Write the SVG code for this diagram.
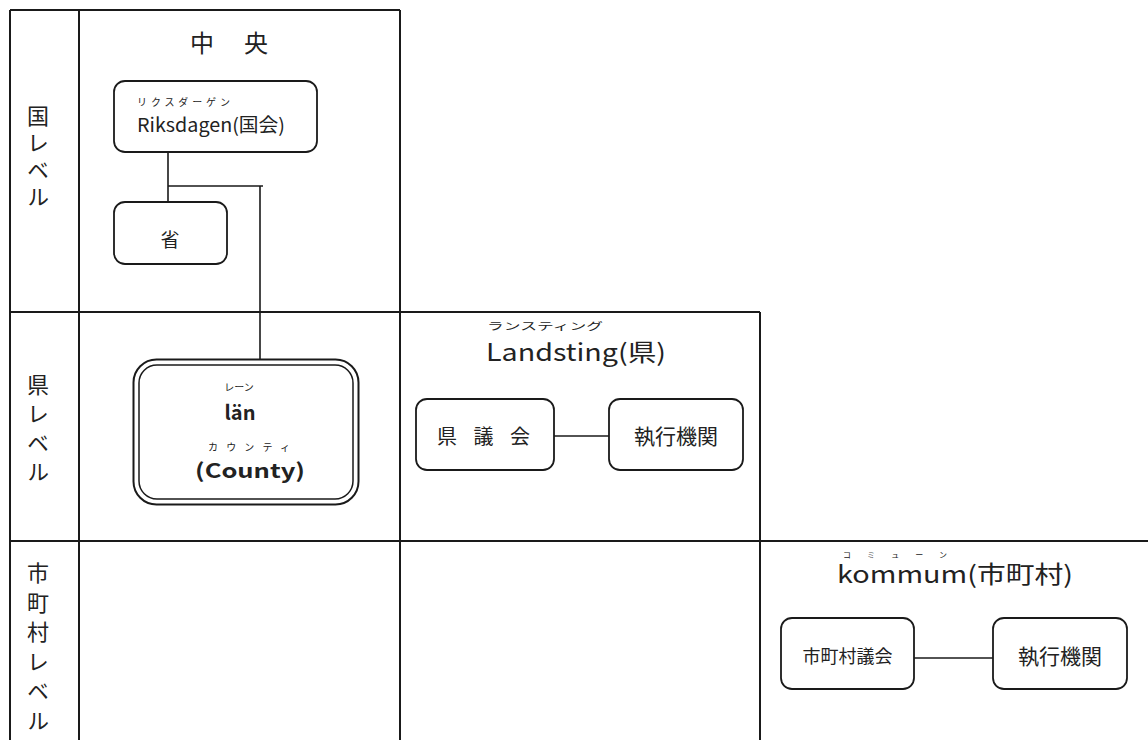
<svg xmlns="http://www.w3.org/2000/svg" width="1148" height="740" viewBox="0 0 1148 740">
<style>
.g{stroke:#1a1a1a;stroke-width:2;fill:none}
.box{fill:#fff;stroke:#1a1a1a;stroke-width:1.8}
.c{stroke:#1a1a1a;stroke-width:1.6;fill:none}
text{font-family:"Noto Sans CJK JP","Noto Sans",sans-serif;fill:#222}
.m{text-anchor:middle}
.v{font-size:22px;writing-mode:vertical-rl;glyph-orientation-vertical:0}
.r{font-size:10px}
</style>
<rect width="1148" height="740" fill="#fff"/>
<g id="grid">
<path class="g" d="M10 10H400M10 10V740M79 10V740M400 10V740M10 312H760M760 312V740M10 541H1148"/>
</g>
<g id="labels">
<text class="v" x="38" y="105" letter-spacing="5">国レベル</text>
<text class="v" x="38" y="374" letter-spacing="7">県レベル</text>
<text class="v" x="38" y="562" letter-spacing="7.5">市町村レベル</text>
<text x="190" y="52" font-size="24" textLength="78" lengthAdjust="spacing">中 央</text>
<text x="487" y="330" class="r" textLength="116" lengthAdjust="spacingAndGlyphs">ランスティング</text>
<text x="486" y="361" font-size="24" textLength="180" lengthAdjust="spacingAndGlyphs">Landsting(県)</text>
<text x="843" y="558" font-size="8" textLength="104" lengthAdjust="spacing">コミューン</text>
<text x="837" y="583" font-size="24" textLength="236" lengthAdjust="spacingAndGlyphs">kommum(市町村)</text>
</g>
<g id="connectors">
<path class="c" d="M168 152V202M168 186H263M260 186V360"/>
<path class="c" d="M554 436H609"/>
<path class="c" d="M914 658H993"/>
</g>
<g id="riksdagen">
<rect class="box" x="114" y="81" width="203" height="71" rx="11"/>
<text x="137" y="106" class="r" textLength="93" lengthAdjust="spacing">リクスダーゲン</text>
<text x="137" y="132" font-size="19" textLength="148" lengthAdjust="spacingAndGlyphs">Riksdagen(国会)</text>
</g>
<g id="sho">
<rect class="box" x="114" y="202" width="113" height="62" rx="11"/>
<text x="170" y="247" font-size="19" class="m">省</text>
</g>
<g id="lan">
<rect x="133.5" y="359.5" width="225" height="145" rx="23" fill="#fff" stroke="#1a1a1a" stroke-width="2"/>
<rect x="139" y="365" width="214" height="134" rx="18" fill="none" stroke="#1a1a1a" stroke-width="1.5"/>
<text x="239" y="391" class="r m">レーン</text>
<text x="240" y="420" font-size="20" font-weight="bold" class="m">län</text>
<text x="208" y="451" class="r" textLength="82" lengthAdjust="spacing">カウンティ</text>
<text x="195" y="478" font-size="20" font-weight="bold" textLength="110" lengthAdjust="spacingAndGlyphs">(County)</text>
</g>
<g id="ken-gikai">
<rect class="box" x="416" y="399" width="138" height="71" rx="11"/>
<text x="437" y="444" font-size="20" textLength="93" lengthAdjust="spacing">県 議 会</text>
</g>
<g id="ken-shikko">
<rect class="box" x="609" y="399" width="134" height="71" rx="11"/>
<text x="676" y="444" font-size="21" class="m">執行機関</text>
</g>
<g id="shi-gikai">
<rect class="box" x="781" y="618" width="133" height="71" rx="11"/>
<text x="847.5" y="663" font-size="18" class="m">市町村議会</text>
</g>
<g id="shi-shikko">
<rect class="box" x="993" y="618" width="134" height="71" rx="11"/>
<text x="1060" y="664" font-size="21" class="m">執行機関</text>
</g>
</svg>
